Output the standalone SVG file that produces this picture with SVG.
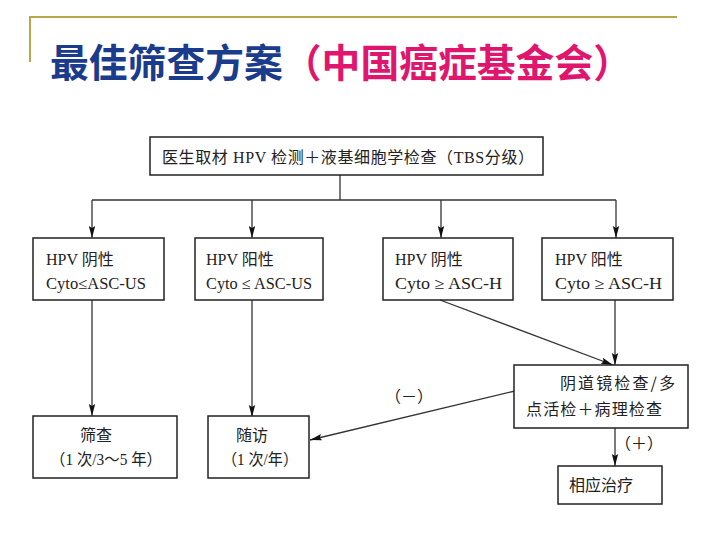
<svg xmlns="http://www.w3.org/2000/svg" width="720" height="540" viewBox="0 0 720 540">
  <defs>
    <style>
      .frame { stroke: #b9a84a; stroke-width: 2; fill: none; }
      .box { fill: #ffffff; stroke: #222222; stroke-width: 1.5; }
      .conn { stroke: #333333; stroke-width: 1.3; fill: none; }
      .t { font-family: "Liberation Serif", "Noto Sans CJK SC", serif; font-size: 16px; fill: #222222; }
      .c { font-family: "Noto Sans CJK SC", sans-serif; font-size: 16px; fill: #222222; }
      .title { font-family: "Noto Sans CJK SC", sans-serif; font-size: 39px; font-weight: 700; }
    </style>
    <marker id="arr" viewBox="0 0 12 8" refX="12" refY="4" markerWidth="12" markerHeight="8" markerUnits="userSpaceOnUse" orient="auto">
      <path d="M0,0.8 L12,4 L0,7.2 L2,4 Z" fill="#111111"/>
    </marker>
  </defs>
  <rect width="720" height="540" fill="#ffffff"/>

  <g id="title">
    <path class="frame" d="M30,62 V17 H677"/>
    <text x="50" y="77" class="title" textLength="582" lengthAdjust="spacingAndGlyphs"><tspan fill="#1b3b8c">最佳筛查方案</tspan><tspan fill="#e0166e">（中国癌症基金会）</tspan></text>
  </g>

  <g id="connectors">
    <path class="conn" d="M340,175 V200"/>
    <path class="conn" d="M92,200 H616"/>
    <path class="conn" d="M92,200 V238" marker-end="url(#arr)"/>
    <path class="conn" d="M252,200 V238" marker-end="url(#arr)"/>
    <path class="conn" d="M441,200 V238" marker-end="url(#arr)"/>
    <path class="conn" d="M616,200 V238" marker-end="url(#arr)"/>
    <path class="conn" d="M92,300 V416" marker-end="url(#arr)"/>
    <path class="conn" d="M252,300 V417" marker-end="url(#arr)"/>
    <path class="conn" d="M440,300 L613,365" marker-end="url(#arr)"/>
    <path class="conn" d="M615,300 V365" marker-end="url(#arr)"/>
    <path class="conn" d="M515,391 L310,440" marker-end="url(#arr)"/>
    <path class="conn" d="M615,428 V466" marker-end="url(#arr)"/>
    <text x="385" y="402" class="c" font-size="15">（－）</text>
    <text x="615" y="449" class="c" font-size="15">（＋）</text>
  </g>

  <g id="top">
    <rect class="box" x="150" y="137" width="393" height="38"/>
    <text x="162" y="163" class="t" textLength="372" lengthAdjust="spacing">医生取材 HPV 检测＋液基细胞学检查（TBS分级）</text>
  </g>

  <g id="n1">
    <rect class="box" x="33" y="238" width="131" height="62"/>
    <text x="46" y="265" class="t">HPV 阴性</text>
    <text x="46" y="289" class="t" textLength="100" lengthAdjust="spacingAndGlyphs">Cyto≤ASC-US</text>
  </g>
  <g id="n2">
    <rect class="box" x="195" y="238" width="128" height="62"/>
    <text x="206" y="265" class="t">HPV 阳性</text>
    <text x="206" y="289" class="t" textLength="106" lengthAdjust="spacingAndGlyphs">Cyto ≤ ASC-US</text>
  </g>
  <g id="n3">
    <rect class="box" x="383" y="238" width="130" height="62"/>
    <text x="395" y="265" class="t">HPV 阴性</text>
    <text x="395" y="289" class="t" textLength="107" lengthAdjust="spacingAndGlyphs">Cyto ≥ ASC-H</text>
  </g>
  <g id="n4">
    <rect class="box" x="542" y="238" width="131" height="62"/>
    <text x="555" y="265" class="t">HPV 阳性</text>
    <text x="555" y="289" class="t" textLength="107" lengthAdjust="spacingAndGlyphs">Cyto ≥ ASC-H</text>
  </g>

  <g id="n5">
    <rect class="box" x="33" y="416" width="144" height="62"/>
    <text x="96" y="441" class="c" text-anchor="middle">筛查</text>
    <text x="106" y="465" class="t" text-anchor="middle" textLength="112" lengthAdjust="spacingAndGlyphs">（1 次/3～5 年）</text>
  </g>
  <g id="n6">
    <rect class="box" x="208" y="416" width="101" height="62"/>
    <text x="252" y="441" class="c" text-anchor="middle">随访</text>
    <text x="260" y="465" class="t" text-anchor="middle" textLength="76" lengthAdjust="spacingAndGlyphs">（1 次/年）</text>
  </g>

  <g id="n7">
    <rect class="box" x="514" y="365" width="174" height="63"/>
    <text x="560" y="389" class="c" textLength="115" lengthAdjust="spacing">阴道镜检查/多</text>
    <text x="526" y="415" class="c" textLength="136" lengthAdjust="spacing">点活检＋病理检查</text>
  </g>

  <g id="n8">
    <rect class="box" x="558" y="466" width="104" height="38"/>
    <text x="569" y="491" class="c">相应治疗</text>
  </g>
</svg>
